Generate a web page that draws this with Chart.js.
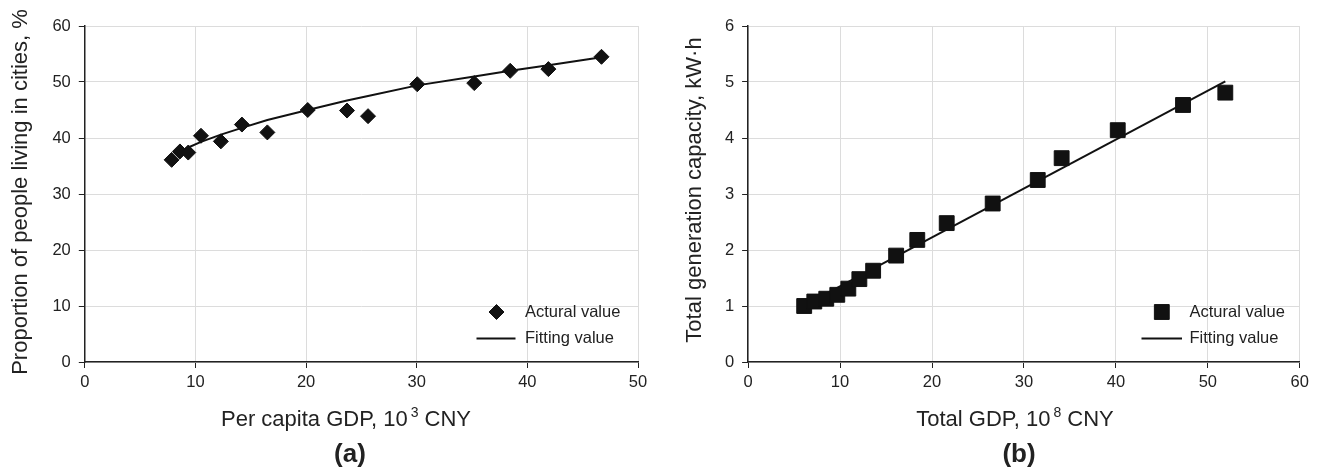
<!DOCTYPE html>
<html><head><meta charset="utf-8">
<script src="https://cdn.jsdelivr.net/npm/chart.js@4.4.0/dist/chart.umd.min.js"></script>
<style>
html,body{margin:0;padding:0;background:#fff;}
#wrap{position:relative;width:1320px;height:473px;overflow:hidden;}
canvas{position:absolute;top:0;}
</style></head><body>
<div id="wrap">
<canvas id="ca" width="660" height="473" style="left:0;width:660px;height:473px"></canvas>
<canvas id="cb" width="660" height="473" style="left:660px;width:660px;height:473px"></canvas>
</div>
<script>
// ---------- Panel (a) data ----------
const gdpPerCapita = [7.85, 8.6, 9.35, 10.5, 12.3, 14.2, 16.5, 20.15, 23.7, 25.6, 30.05, 35.2, 38.45, 41.9, 46.7];
const urbanShare   = [36.1, 37.6, 37.4, 40.4, 39.4, 42.4, 41.0, 45.0, 44.9, 43.9, 49.6, 49.8, 52.0, 52.3, 54.5];
const fitXA = [8.6, 9.35, 10.5, 12.3, 14.2, 16.5, 20.15, 23.7, 25.6, 30.05, 35.2, 38.45, 41.9, 46.7];
const fitYA = [37.6, 38.3, 39.3, 40.6, 41.8, 43.2, 45.0, 46.7, 47.5, 49.4, 51.0, 52.0, 53.0, 54.4];
const xTicksA = [0, 10, 20, 30, 40, 50];
const yTicksA = [0, 10, 20, 30, 40, 50, 60];

// ---------- Panel (b) data ----------
const totalGdp  = [6.1, 7.2, 8.5, 9.7, 10.9, 12.1, 13.6, 16.1, 18.4, 21.6, 26.6, 31.5, 34.1, 40.2, 47.3, 51.9];
const capacity  = [1.00, 1.08, 1.13, 1.20, 1.31, 1.48, 1.63, 1.90, 2.18, 2.48, 2.83, 3.25, 3.64, 4.14, 4.59, 4.81];
const fitXB = [6.1, 51.9];
const fitYB = [1.01, 5.01];
const xTicksB = [0, 10, 20, 30, 40, 50, 60];
const yTicksB = [0, 1, 2, 3, 4, 5, 6];

const FONT = "'Liberation Sans', Arial, Helvetica, sans-serif";
Chart.defaults.font.family = FONT;

const annot = {
  id: 'annot',
  afterDraw(chart, args, o) {
    const ctx = chart.ctx;
    ctx.save();
    ctx.fillStyle = '#222';
    // y title
    ctx.save();
    ctx.font = '22px ' + FONT;
    ctx.translate(o.yTitleX, o.yTitleY);
    ctx.rotate(-Math.PI / 2);
    ctx.textAlign = 'center';
    ctx.textBaseline = 'middle';
    ctx.fillText(o.yTitle, 0, 0);
    ctx.restore();
    // x title with superscript
    ctx.textBaseline = 'alphabetic';
    ctx.textAlign = 'left';
    ctx.font = '22px ' + FONT;
    const w1 = ctx.measureText(o.xPre).width;
    const w3 = ctx.measureText(o.xPost).width;
    ctx.font = '14px ' + FONT;
    const w2 = ctx.measureText(o.xSup).width + 3;
    const total = w1 + w2 + w3;
    let x = o.xTitleX - total / 2;
    const base = o.xTitleY + 8;
    ctx.font = '22px ' + FONT;
    ctx.fillText(o.xPre, x, base);
    x += w1 + 3;
    ctx.font = '14px ' + FONT;
    ctx.fillText(o.xSup, x, base - 9);
    x += w2 - 3;
    ctx.font = '22px ' + FONT;
    ctx.fillText(o.xPost, x, base);
    // panel label
    ctx.font = 'bold 26px ' + FONT;
    ctx.textAlign = 'center';
    ctx.textBaseline = 'middle';
    ctx.fillText(o.panel, o.panelX, o.panelY);
    // legend
    const ds0 = chart.data.datasets[0];
    ctx.fillStyle = '#111';
    ctx.strokeStyle = '#111';
    ctx.lineWidth = 1;
    Chart.helpers.drawPoint(ctx, {pointStyle: ds0.pointStyle, radius: ds0.pointRadius, borderWidth: 1}, o.legMarkX, o.legY1);
    ctx.beginPath();
    ctx.lineWidth = 2;
    ctx.moveTo(o.legLine0, o.legY2);
    ctx.lineTo(o.legLine1, o.legY2);
    ctx.stroke();
    ctx.fillStyle = '#222';
    ctx.font = '16.5px ' + FONT;
    ctx.textAlign = 'left';
    ctx.textBaseline = 'middle';
    ctx.fillText(ds0.label, o.legTextX, o.legY1);
    ctx.fillText(chart.data.datasets[1].label, o.legTextX, o.legY2);
    ctx.restore();
  }
};

function makeChart(id, c) {
  const tickSetter = arr => s => { s.ticks = arr.map(v => ({value: v})); };
  return new Chart(document.getElementById(id), {
    type: 'scatter',
    data: {
      datasets: [
        {
          label: 'Actural value',
          data: c.xs.map((v, i) => ({x: v, y: c.ys[i]})),
          pointStyle: c.pointStyle,
          pointRadius: c.radius,
          pointHoverRadius: c.radius,
          backgroundColor: '#111',
          borderColor: '#111',
          borderWidth: 1,
          order: 1
        },
        {
          label: 'Fitting value',
          data: c.fx.map((v, i) => ({x: v, y: c.fy[i]})),
          showLine: true,
          borderColor: '#111',
          borderWidth: 2,
          pointRadius: 0,
          fill: false,
          tension: 0,
          order: 2
        }
      ]
    },
    options: {
      responsive: false,
      animation: false,
      devicePixelRatio: 1,
      layout: {padding: {left: 0, right: c.padR, top: 26, bottom: 0}},
      plugins: {legend: {display: false}, tooltip: {enabled: false}, annot: c.annot},
      scales: {
        x: {
          type: 'linear', min: c.xTicks[0], max: c.xTicks[c.xTicks.length - 1],
          afterBuildTicks: tickSetter(c.xTicks),
          afterFit: s => { s.height = 111; },
          grid: {color: '#dcdcdc', lineWidth: 1, tickColor: '#222', tickLength: 6, drawTicks: true},
          border: {color: '#222', width: 1.5},
          ticks: {color: '#222', font: {size: 16.5}, padding: 5, maxRotation: 0}
        },
        y: {
          type: 'linear', min: c.yTicks[0], max: c.yTicks[c.yTicks.length - 1],
          afterBuildTicks: tickSetter(c.yTicks),
          afterFit: s => { s.width = c.yW; },
          grid: {color: '#dcdcdc', lineWidth: 1, tickColor: '#222', tickLength: 6, drawTicks: true},
          border: {color: '#222', width: 1.5},
          ticks: {color: '#222', font: {size: 16.5}, padding: 8}
        }
      }
    },
    plugins: [annot]
  });
}

makeChart('ca', {
  xs: gdpPerCapita, ys: urbanShare, fx: fitXA, fy: fitYA,
  xTicks: xTicksA, yTicks: yTicksA,
  pointStyle: 'rectRot', radius: 7.5,
  padR: 22, yW: 84.8,
  annot: {
    yTitle: 'Proportion of people living in cities, %', yTitleX: 21, yTitleY: 192,
    xPre: 'Per capita GDP, 10', xSup: '3', xPost: ' CNY', xTitleX: 346, xTitleY: 418,
    panel: '(a)', panelX: 350, panelY: 455,
    legMarkX: 496.5, legY1: 312, legY2: 338.5, legLine0: 476.5, legLine1: 515.5, legTextX: 525
  }
});

makeChart('cb', {
  xs: totalGdp, ys: capacity, fx: fitXB, fy: fitYB,
  xTicks: xTicksB, yTicks: yTicksB,
  pointStyle: 'rect', radius: 10.5,
  padR: 20.2, yW: 88.1,
  annot: {
    yTitle: 'Total generation capacity, kW·h', yTitleX: 35, yTitleY: 190,
    xPre: 'Total GDP, 10', xSup: '8', xPost: ' CNY', xTitleX: 355, xTitleY: 418,
    panel: '(b)', panelX: 359, panelY: 455,
    legMarkX: 501.8, legY1: 312, legY2: 338.5, legLine0: 481.5, legLine1: 522, legTextX: 529.5
  }
});
</script>
</body></html>
